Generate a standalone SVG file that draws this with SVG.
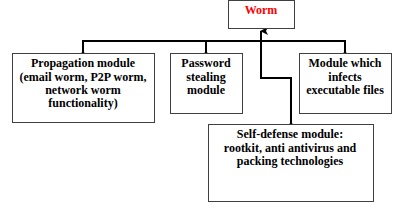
<svg xmlns="http://www.w3.org/2000/svg" width="400" height="219" viewBox="0 0 400 219">
<defs>
<style>
.box{fill:#fff;stroke:#404040;stroke-width:1}
.t{font-family:"Liberation Serif","Times New Roman",serif;font-weight:bold;font-size:12px;text-anchor:middle;fill:#000}
.red{fill:#ff0000}
.ln{fill:none;stroke:#000;stroke-width:2}
</style>
<marker id="ah" markerWidth="8" markerHeight="8" refX="4" refY="1" orient="auto" markerUnits="userSpaceOnUse" viewBox="0 0 8 8">
<path d="M0,8 L4,0 L8,8 L4,6 Z" fill="#000"/>
</marker>
</defs>
<rect width="400" height="219" fill="#fff"/>
<g id="connectors">
<path class="ln" d="M83,53 V41 H345 V53"/>
<path class="ln" d="M206,41 V53"/>
<circle cx="83" cy="53" r="1.5"/>
<circle cx="206" cy="53" r="1.5"/>
<circle cx="345" cy="53" r="1.5"/>
<path class="ln" d="M291,124 V78 H261 V31" marker-end="url(#ah)"/>
<circle cx="291" cy="124" r="1.5"/>
</g>
<g id="worm">
<rect class="box" x="228.5" y="0.5" width="66" height="28"/>
<text class="t red" x="261" y="14">Worm</text>
</g>
<g id="propagation">
<rect class="box" x="12.5" y="53.5" width="142" height="69"/>
<text class="t" x="83" y="67">Propagation module</text>
<text class="t" x="83" y="81">(email worm, P2P worm,</text>
<text class="t" x="83" y="94">network worm</text>
<text class="t" x="83" y="107">functionality)</text>
</g>
<g id="password">
<rect class="box" x="170.5" y="53.5" width="72" height="60"/>
<text class="t" x="206" y="67">Password</text>
<text class="t" x="206" y="81">stealing</text>
<text class="t" x="206" y="94">module</text>
</g>
<g id="infects">
<rect class="box" x="299.5" y="53.5" width="92" height="60"/>
<text class="t" x="345" y="67">Module which</text>
<text class="t" x="345" y="81">infects</text>
<text class="t" x="345" y="94">executable files</text>
</g>
<g id="selfdefense">
<rect class="box" x="208.5" y="124.5" width="165" height="77"/>
<text class="t" x="290" y="138">Self-defense module:</text>
<text class="t" x="290" y="152">rootkit, anti antivirus and</text>
<text class="t" x="290" y="165">packing technologies</text>
</g>
</svg>
